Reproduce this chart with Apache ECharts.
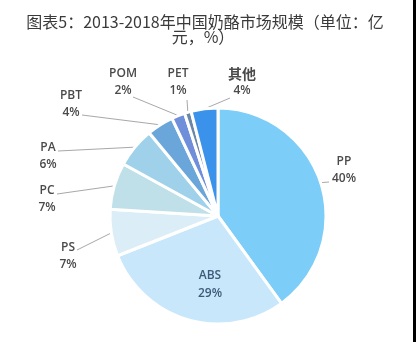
<!DOCTYPE html>
<html>
<head>
<meta charset="utf-8">
<script src="https://cdn.jsdelivr.net/npm/echarts@6/dist/echarts.min.js"></script>
<style>
  html, body { margin: 0; padding: 0; background: #fff; }
  #chart { width: 416px; height: 342px; }
</style>
</head>
<body>
<div id="chart"></div>
<script>
// Market share by material, clockwise from 12 o'clock
const categories = ['PP', 'ABS', 'PS', 'PC', 'PA', 'PBT', 'POM', 'PET', '其他'];
const shares = [40, 29, 7, 7, 6, 4, 2, 1, 4];
const titleLines = ['图表5：2013-2018年中国奶酪市场规模（单位：亿', '元，%）'];

const sliceColors = ['#7ccdf7', '#c9e7fb', '#dbedf6', '#bfe0e8', '#9fd1eb', '#6aa6d9', '#6f8fda', '#6b87a8', '#3a92ea'];
// centre of each label block, and where its leader line stops
const labelAnchors = [[344, 170], [210, 285], [68, 256], [47, 199], [48, 156], [71, 104], [123, 82], [178, 82], [242, 82]];
const lineEnds = [[329, 182], null, [77, 250], [57, 194], [58, 151], [82, 115], [133, 97], [187, 100], [230, 98]];

const chart = echarts.init(document.getElementById('chart'), null, { renderer: 'canvas' });

const data = categories.map((name, i) => {
  const item = { name: name, value: shares[i], itemStyle: { color: sliceColors[i] } };
  if (name === 'ABS') {
    item.label = { position: 'inside', formatter: '{a|{b}}\n{a|{c}%}' };
    item.labelLine = { show: false };
  }
  if (name === '其他') {
    item.label = { formatter: '{m|{b}}\n{p|{c}%}' };
  }
  return item;
});

const titleStyle = {
  fontFamily: 'Noto Sans CJK SC',
  fontSize: 16,
  fontWeight: 'normal',
  color: '#3a3a3a'
};

chart.setOption({
  backgroundColor: '#ffffff',
  animation: false,
  title: [
    { text: titleLines[0], left: 205, top: 14, textAlign: 'center', padding: 0, textStyle: titleStyle },
    { text: titleLines[1], left: 203, top: 29, textAlign: 'center', padding: 0, textStyle: titleStyle }
  ],
  graphic: [{
    type: 'rect',
    shape: { x: 413, y: 0, width: 3, height: 342 },
    style: { fill: '#000' }
  }],
  series: [{
    type: 'pie',
    center: [218, 216],
    radius: 108,
    startAngle: 90,
    clockwise: true,
    itemStyle: { borderColor: '#ffffff', borderWidth: 3 },
    label: {
      show: true,
      position: 'outside',
      formatter: '{n|{b}}\n{p|{c}%}',
      rich: {
        n: { fontFamily: 'Open Sans', fontSize: 12, fontWeight: 600, color: '#4a4a4a', lineHeight: 17, align: 'center' },
        p: { fontFamily: 'Open Sans', fontSize: 12, fontWeight: 600, color: '#4a4a4a', lineHeight: 17, align: 'center' },
        m: { fontFamily: 'Noto Sans CJK SC', fontSize: 14, fontWeight: 'bold', color: '#4a4a4a', lineHeight: 18, align: 'center' },
        a: { fontFamily: 'Open Sans', fontSize: 12, fontWeight: 600, color: '#3d5b78', lineHeight: 18, align: 'center' }
      }
    },
    labelLine: {
      show: true,
      length: 10,
      length2: 10,
      lineStyle: { color: '#a8a8a8', width: 1 }
    },
    labelLayout: function (params) {
      const i = params.dataIndex;
      const res = {
        x: labelAnchors[i][0],
        y: labelAnchors[i][1],
        align: 'center',
        verticalAlign: 'middle'
      };
      if (lineEnds[i] && params.labelLinePoints) {
        res.labelLinePoints = [params.labelLinePoints[0], lineEnds[i]];
      }
      return res;
    },
    data: data
  }]
});
</script>
</body>
</html>
